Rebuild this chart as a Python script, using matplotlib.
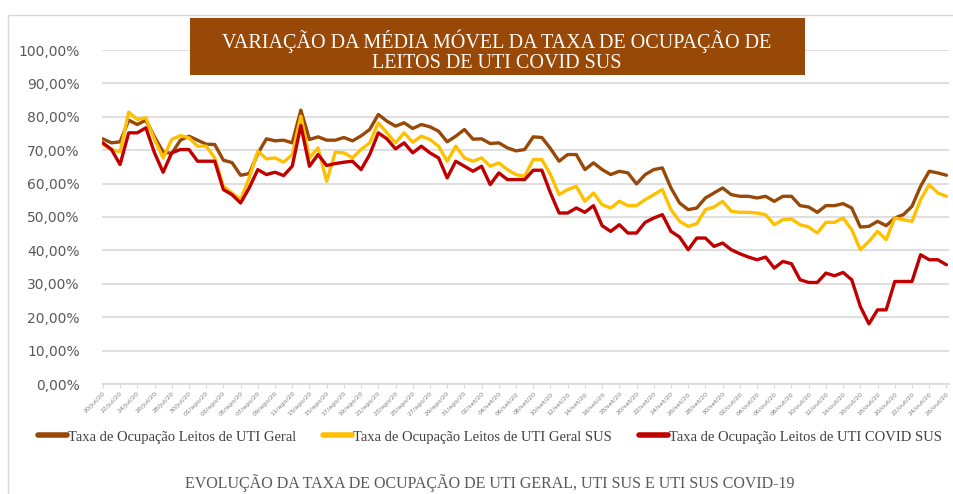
import matplotlib
matplotlib.use("Agg")
import matplotlib.pyplot as plt
from matplotlib import font_manager as fm
from matplotlib.patches import Rectangle
import pandas as pd
import numpy as np

# ---------------- data ----------------
start_date = "2020-07-20"
n_days = 99
month_pt = {7: "jul", 8: "ago", 9: "set", 10: "out"}

uti_geral = [73.4, 72.2, 72.5, 79.0, 77.7, 79.0, 74.0, 69.5, 69.0, 73.0,
             74.2, 73.0, 71.8, 71.7, 67.0, 66.3, 62.5, 63.0, 69.0, 73.4,
             72.8, 73.0, 72.2, 82.0, 73.2, 74.0, 73.0, 73.0, 73.8, 72.8,
             74.3, 76.2, 80.7, 78.7, 77.2, 78.2, 76.5, 77.7, 77.0, 75.7,
             72.5, 74.2, 76.2, 73.3, 73.4, 72.0, 72.2, 70.7, 69.8, 70.2,
             74.0, 73.8, 70.5, 66.7, 68.7, 68.7, 64.2, 66.2, 64.2, 62.7,
             63.7, 63.2, 59.9, 62.7, 64.2, 64.7, 58.7, 54.2, 52.2, 52.7,
             55.7, 57.2, 58.7, 56.7, 56.2, 56.2, 55.7, 56.2, 54.7, 56.2,
             56.2, 53.4, 53.0, 51.4, 53.4, 53.4, 54.0, 52.7, 47.0, 47.2,
             48.7, 47.4, 49.7, 50.7, 53.2, 59.2, 63.7, 63.2, 62.5]

uti_geral_sus = [71.7, 70.2, 69.5, 81.4, 79.2, 79.7, 73.2, 67.7, 73.2, 74.4,
                 73.7, 71.2, 71.2, 67.7, 59.2, 57.2, 55.2, 61.7, 69.7, 67.4,
                 67.7, 66.4, 68.7, 80.2, 67.7, 70.7, 60.7, 69.4, 69.2, 67.7,
                 70.2, 72.2, 78.2, 75.2, 72.2, 75.2, 72.4, 74.2, 73.2, 71.2,
                 66.7, 71.2, 67.7, 66.7, 67.7, 65.2, 66.2, 64.2, 62.7, 62.2,
                 67.2, 67.2, 62.7, 56.7, 58.2, 59.2, 54.7, 57.2, 53.7, 52.7,
                 54.7, 53.4, 53.4, 55.2, 56.7, 58.2, 52.2, 48.7, 47.2, 48.0,
                 52.2, 53.0, 54.7, 51.7, 51.4, 51.4, 51.2, 50.7, 47.7, 49.2,
                 49.4, 47.7, 47.0, 45.2, 48.4, 48.4, 49.7, 46.2, 40.2, 42.7,
                 45.7, 43.2, 49.7, 49.2, 48.7, 55.2, 59.7, 57.2, 56.2]

uti_covid_sus = [72.2, 70.2, 65.7, 75.2, 75.2, 76.7, 69.2, 63.4, 69.2, 70.2,
                 70.2, 66.7, 66.7, 66.7, 58.2, 56.7, 54.2, 58.7, 64.2, 62.7,
                 63.4, 62.4, 65.2, 77.4, 65.2, 68.7, 65.4, 66.0, 66.4, 66.7,
                 64.2, 68.7, 75.2, 73.4, 70.4, 72.2, 69.2, 71.2, 69.2, 67.7,
                 61.7, 66.7, 65.2, 63.7, 65.2, 59.7, 63.2, 61.2, 61.2, 61.2,
                 64.0, 64.0, 57.2, 51.2, 51.2, 52.7, 51.4, 53.4, 47.4, 45.7,
                 47.7, 45.2, 45.2, 48.4, 49.7, 50.7, 45.7, 44.0, 40.2, 43.7,
                 43.7, 41.2, 42.2, 40.2, 39.0, 38.0, 37.2, 38.0, 34.7, 36.7,
                 36.0, 31.2, 30.4, 30.4, 33.2, 32.4, 33.4, 31.2, 23.2, 18.0,
                 22.2, 22.2, 30.7, 30.7, 30.7, 38.7, 37.2, 37.2, 35.7]

series_names = ["Taxa de Ocupação Leitos de UTI Geral",
                "Taxa de Ocupação Leitos de UTI Geral SUS",
                "Taxa de Ocupação Leitos de UTI COVID SUS"]
title_text = "VARIAÇÃO DA MÉDIA MÓVEL DA TAXA DE OCUPAÇÃO DE\nLEITOS DE UTI COVID SUS"
bottom_text = "EVOLUÇÃO DA TAXA DE OCUPAÇÃO DE UTI GERAL, UTI SUS E UTI SUS COVID-19"

dates = pd.date_range(start_date, periods=n_days, freq="D")
date_labels = [f"{d.day:02d}/{month_pt[d.month]}/{d.strftime('%y')}" for d in dates]

serif = "Liberation Serif"

# ---------------- figure ----------------
W, H = 954, 494
fig = plt.figure(figsize=(W / 100, H / 100), dpi=100)
fig.patch.set_facecolor("white")

# chart-area border
fig.add_artist(Rectangle((8 / W, -0.1), 1.2, 0.1 + (H - 15) / H,
                         transform=fig.transFigure, fill=False,
                         edgecolor="#d9d9d9", linewidth=1.0))

ax_left, ax_right = 102 / W, 949 / W
ax_bottom, ax_top = (H - 384) / H, (H - 50) / H
ax = fig.add_axes([ax_left, ax_bottom, ax_right - ax_left, ax_top - ax_bottom])

x = np.arange(n_days)
colors = ["#984807", "#FFC000", "#C00000"]
for vals, c, name in zip([uti_geral, uti_geral_sus, uti_covid_sus], colors, series_names):
    ax.plot(x, np.array(vals) / 100.0, color=c, linewidth=2.4, label=name,
            solid_joinstyle="round", solid_capstyle="round")

ax.set_ylim(0, 1.0)
ax.set_xlim(-0.1, n_days - 1 + 0.3)
yt = np.arange(0, 1.01, 0.1)
ax.set_yticks(yt)
ax.set_yticklabels([f"{v*100:.2f}%".replace(".", ",") for v in yt],
                   fontsize=10, color="#595959")
ax.tick_params(axis="y", length=0, pad=16)
ax.grid(axis="y", color="#d9d9d9", linewidth=1.2)
ax.set_axisbelow(True)

ax.set_xticks(x[::2])
ax.set_xticklabels(date_labels[::2], rotation=45, ha="right",
                   rotation_mode="anchor", fontsize=4.6, color="#7f7f7f")
ax.tick_params(axis="x", length=3, color="#d9d9d9", pad=2)

for s in ["left", "right", "top"]:
    ax.spines[s].set_visible(False)
ax.spines["bottom"].set_color("#d9d9d9")
ax.spines["bottom"].set_linewidth(1.2)

# title box
fig.add_artist(Rectangle((190 / W, (H - 75) / H), 615 / W, 57 / H,
                         transform=fig.transFigure, facecolor="#984807",
                         edgecolor="none", zorder=5))
fig.text(497 / W, (H - 51) / H, title_text, ha="center", va="center",
         color="white", fontsize=14.5, family=serif, linespacing=1.05, zorder=6)

# legend
leg = fig.legend(loc="center", bbox_to_anchor=(490 / W, (H - 437) / H),
                 ncol=3, frameon=False, handlelength=2.0, columnspacing=1.8,
                 handletextpad=0.1,
                 prop=fm.FontProperties(family=serif, size=10.5))
for line in leg.get_lines():
    line.set_linewidth(4)
for t in leg.get_texts():
    t.set_color("#404040")

fig.text(490 / W, (H - 483) / H, bottom_text, ha="center", va="center",
         color="#595959", fontsize=11.5, family=serif)

fig.savefig("out.png", dpi=100, facecolor="white")
